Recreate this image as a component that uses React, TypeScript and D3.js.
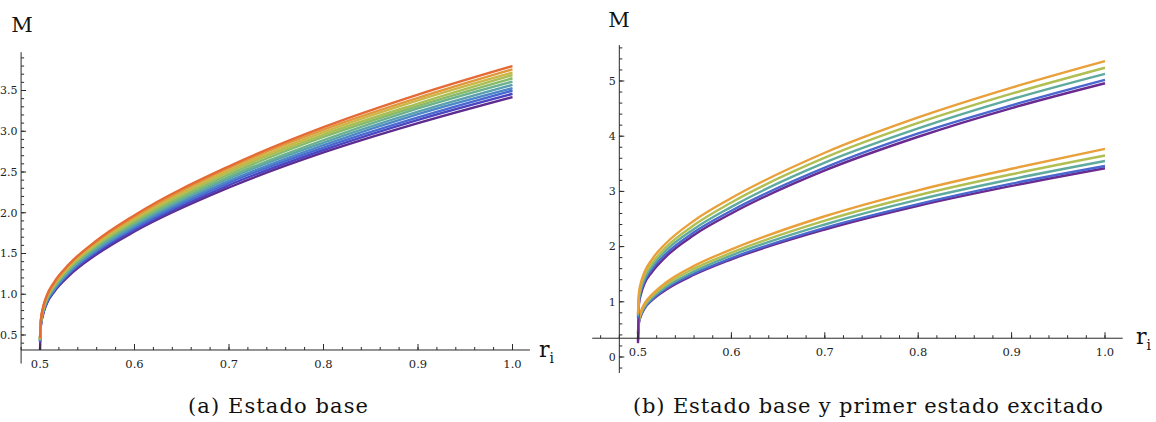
import React from 'react';
import * as d3 from 'd3';

// sampled radii (r_i)
const R = [0.5, 0.501, 0.503, 0.507, 0.515, 0.53, 0.56, 0.6, 0.7, 0.8, 0.9, 1.0];

// Panel (a): ground state, 11 curves bottom (purple) to top (red)
const leftColors = ['#5E2C8F', '#4B45C0', '#4867CF', '#4D86C8', '#58A0AE', '#6AB18F', '#88BA6B', '#A9BE55', '#CBB747', '#E0983C', '#E46A36'];
const leftCurve0 = [0.30, 0.62, 0.74, 0.88, 1.03, 1.22, 1.49, 1.77, 2.31, 2.74, 3.10, 3.42];
const leftCurve1 = [0.42, 0.63, 0.75, 0.89, 1.04, 1.24, 1.51, 1.79, 2.34, 2.77, 3.14, 3.46];
const leftCurve2 = [0.42, 0.64, 0.76, 0.90, 1.05, 1.25, 1.53, 1.81, 2.37, 2.80, 3.17, 3.50];
const leftCurve3 = [0.43, 0.64, 0.77, 0.91, 1.06, 1.26, 1.54, 1.83, 2.39, 2.83, 3.21, 3.53];
const leftCurve4 = [0.43, 0.65, 0.78, 0.92, 1.07, 1.28, 1.56, 1.85, 2.42, 2.86, 3.24, 3.57];
const leftCurve5 = [0.44, 0.66, 0.78, 0.93, 1.09, 1.29, 1.58, 1.87, 2.44, 2.89, 3.28, 3.61];
const leftCurve6 = [0.44, 0.67, 0.79, 0.94, 1.10, 1.31, 1.60, 1.89, 2.47, 2.93, 3.31, 3.65];
const leftCurve7 = [0.45, 0.67, 0.80, 0.95, 1.11, 1.32, 1.61, 1.91, 2.50, 2.96, 3.34, 3.69];
const leftCurve8 = [0.45, 0.68, 0.81, 0.96, 1.12, 1.33, 1.63, 1.93, 2.52, 2.99, 3.38, 3.72];
const leftCurve9 = [0.46, 0.69, 0.82, 0.97, 1.13, 1.35, 1.65, 1.95, 2.55, 3.02, 3.41, 3.76];
const leftCurve10 = [0.46, 0.69, 0.83, 0.98, 1.15, 1.36, 1.66, 1.97, 2.57, 3.05, 3.45, 3.80];
const leftCurves = [leftCurve0, leftCurve1, leftCurve2, leftCurve3, leftCurve4, leftCurve5, leftCurve6, leftCurve7, leftCurve8, leftCurve9, leftCurve10];

// Panel (b): purple, blue, teal, yellow-green, orange
const rightColors = ['#6A2A90', '#4A66CF', '#5FAA9E', '#B0BE52', '#E9A03B'];
const lowerPurple = [0.30, 0.62, 0.74, 0.88, 1.03, 1.22, 1.49, 1.77, 2.31, 2.74, 3.10, 3.42];
const lowerBlue = [0.42, 0.63, 0.75, 0.89, 1.04, 1.24, 1.51, 1.79, 2.34, 2.77, 3.14, 3.46];
const lowerTeal = [0.43, 0.65, 0.77, 0.91, 1.07, 1.27, 1.55, 1.84, 2.40, 2.85, 3.22, 3.55];
const lowerYellow = [0.44, 0.67, 0.79, 0.94, 1.10, 1.31, 1.60, 1.89, 2.47, 2.93, 3.31, 3.65];
const lowerOrange = [0.46, 0.69, 0.82, 0.97, 1.13, 1.35, 1.65, 1.95, 2.55, 3.02, 3.41, 3.77];
const upperPurple = [0.25, 0.96, 1.13, 1.33, 1.54, 1.82, 2.21, 2.60, 3.38, 3.99, 4.51, 4.96];
const upperBlue = [0.70, 1.00, 1.18, 1.37, 1.59, 1.87, 2.26, 2.65, 3.43, 4.05, 4.56, 5.02];
const upperTeal = [0.74, 1.05, 1.22, 1.42, 1.64, 1.93, 2.32, 2.72, 3.52, 4.14, 4.67, 5.13];
const upperYellow = [0.78, 1.10, 1.28, 1.48, 1.70, 1.99, 2.39, 2.80, 3.61, 4.24, 4.77, 5.24];
const upperOrange = [0.78, 1.16, 1.34, 1.54, 1.77, 2.06, 2.47, 2.88, 3.70, 4.34, 4.88, 5.36];
const rightLower = [lowerPurple, lowerBlue, lowerTeal, lowerYellow, lowerOrange];
const rightUpper = [upperPurple, upperBlue, upperTeal, upperYellow, upperOrange];

const xTickValues = [0.5, 0.6, 0.7, 0.8, 0.9, 1.0];
const xTickLabels = ['0.5', '0.6', '0.7', '0.8', '0.9', '1.0'];
const leftYTickValues = [0.5, 1.0, 1.5, 2.0, 2.5, 3.0, 3.5];
const leftYTickLabels = ['0.5', '1.0', '1.5', '2.0', '2.5', '3.0', '3.5'];
const rightYTickValues = [0, 1, 2, 3, 4, 5];
const rightYTickLabels = ['0', '1', '2', '3', '4', '5'];

const FONT = 'DejaVu Serif';
const AX = '#2a2a2a';

type PanelProps = {
  id: string;
  x: d3.ScaleLinear<number, number>;
  y: d3.ScaleLinear<number, number>;
  xAxisAt: number;
  yAxisAt: number;
  xExtent: [number, number];
  yExtent: [number, number];
  xMinor: number[];
  yMinor: number[];
  yTicks: number[];
  yLabels: string[];
  clipBottom: number;
  groups: { colors: string[]; curves: number[][] }[];
  mLabel: [number, number];
  rLabel: [number, number];
  caption: string;
  captionX: number;
  captionLen: number;
};

function Panel(p: PanelProps) {
  const xa = p.y(p.xAxisAt);
  const ya = p.x(p.yAxisAt);
  const line = d3
    .line<[number, number]>()
    .x((d) => p.x(d[0]))
    .y((d) => p.y(d[1]))
    .curve(d3.curveMonotoneX);
  const clipY = p.y(p.clipBottom);
  return (
    <g>
      <defs>
        <clipPath id={p.id}>
          <rect x={ya} y={0} width={p.x(1.05) - ya} height={clipY} />
        </clipPath>
      </defs>
      <g clipPath={`url(#${p.id})`}>
        {p.groups.map((g, gi) =>
          g.curves.map((vals, i) => (
            <path
              key={`${gi}-${i}`}
              d={line(R.map((r, j) => [r, vals[j]] as [number, number])) || ''}
              fill="none"
              stroke={g.colors[i]}
              strokeWidth={2.4}
              strokeLinejoin="round"
            />
          ))
        )}
      </g>
      <line x1={p.x(p.xExtent[0])} x2={p.x(p.xExtent[1])} y1={xa} y2={xa} stroke={AX} strokeWidth={1} />
      <line x1={ya} x2={ya} y1={p.y(p.yExtent[0])} y2={p.y(p.yExtent[1])} stroke={AX} strokeWidth={1} />
      {p.xMinor.map((v, i) => (
        <line key={`xm${i}`} x1={p.x(v)} x2={p.x(v)} y1={xa} y2={xa - 3} stroke={AX} strokeWidth={1} />
      ))}
      {xTickValues.map((v, i) => (
        <g key={`xt${i}`}>
          <line x1={p.x(v)} x2={p.x(v)} y1={xa} y2={xa - 6} stroke={AX} strokeWidth={1} />
          <text x={p.x(v)} y={xa + 18} textAnchor="middle" fontFamily={FONT} fontSize={11.5} fill="#222">
            {xTickLabels[i]}
          </text>
        </g>
      ))}
      {p.yMinor.map((v, i) => (
        <line key={`ym${i}`} x1={ya} x2={ya + 3} y1={p.y(v)} y2={p.y(v)} stroke={AX} strokeWidth={1} />
      ))}
      {p.yTicks.map((v, i) => (
        <g key={`yt${i}`}>
          <line x1={ya} x2={ya + 5} y1={p.y(v)} y2={p.y(v)} stroke={AX} strokeWidth={1} />
          <text x={ya - 3.5} y={p.y(v)} dy="0.35em" textAnchor="end" fontFamily={FONT} fontSize={11} fill="#222">
            {p.yLabels[i]}
          </text>
        </g>
      ))}
      <text x={p.mLabel[0]} y={p.mLabel[1]} textAnchor="middle" fontFamily={FONT} fontSize={21} fill="#111">
        M
      </text>
      <text x={p.rLabel[0]} y={p.rLabel[1]} fontFamily={FONT} fontSize={22} fill="#111">
        r<tspan fontSize={14} dy={6}>i</tspan>
      </text>
      <text
        x={p.captionX}
        y={413}
        textAnchor="middle"
        fontFamily={FONT}
        fontSize={21}
        fill="#111"
        textLength={p.captionLen}
        lengthAdjust="spacing"
      >
        {p.caption}
      </text>
    </g>
  );
}

export default function App() {
  const xL = d3.scaleLinear().domain([0.5, 1.0]).range([40, 512.5]);
  const yL = d3.scaleLinear().domain([0.5, 3.5]).range([335, 90.5]);
  const xR = d3.scaleLinear().domain([0.5, 1.0]).range([638, 1105]);
  const yR = d3.scaleLinear().domain([0, 5]).range([357, 81]);

  const leftXMinor = d3.range(0, 27).map((i) => 0.48 + i * 0.02);
  const leftYMinor = d3.range(0, 36).map((i) => 0.4 + i * 0.1);
  const rightXMinor = d3.range(0, 28).map((i) => 0.46 + i * 0.02);
  const rightYMinor = d3.range(0, 30).map((i) => -0.2 + i * 0.2);

  return (
    <svg
      width={1156}
      height={422}
      style={{ position: 'absolute', left: 0, top: 0, background: '#fff' }}
    >
      <rect x={0} y={0} width={1156} height={422} fill="#fff" />
      <Panel
        id="clipL"
        x={xL}
        y={yL}
        xAxisAt={0.316}
        yAxisAt={0.48}
        xExtent={[0.48, 1.0185]}
        yExtent={[0.15, 3.97]}
        xMinor={leftXMinor}
        yMinor={leftYMinor}
        yTicks={leftYTickValues}
        yLabels={leftYTickLabels}
        clipBottom={0.316}
        groups={[{ colors: leftColors, curves: leftCurves }]}
        mLabel={[22, 32]}
        rLabel={[539, 357]}
        caption="(a) Estado base"
        captionX={278}
        captionLen={180}
      />
      <Panel
        id="clipR"
        x={xR}
        y={yR}
        xAxisAt={0.34}
        yAxisAt={0.48}
        xExtent={[0.451, 1.019]}
        yExtent={[-0.29, 5.65]}
        xMinor={rightXMinor}
        yMinor={rightYMinor}
        yTicks={rightYTickValues}
        yLabels={rightYTickLabels}
        clipBottom={0.24}
        groups={[
          { colors: rightColors, curves: rightLower },
          { colors: rightColors, curves: rightUpper },
        ]}
        mLabel={[619, 27]}
        rLabel={[1136, 344]}
        caption="(b) Estado base y primer estado excitado"
        captionX={868}
        captionLen={470}
      />
    </svg>
  );
}
